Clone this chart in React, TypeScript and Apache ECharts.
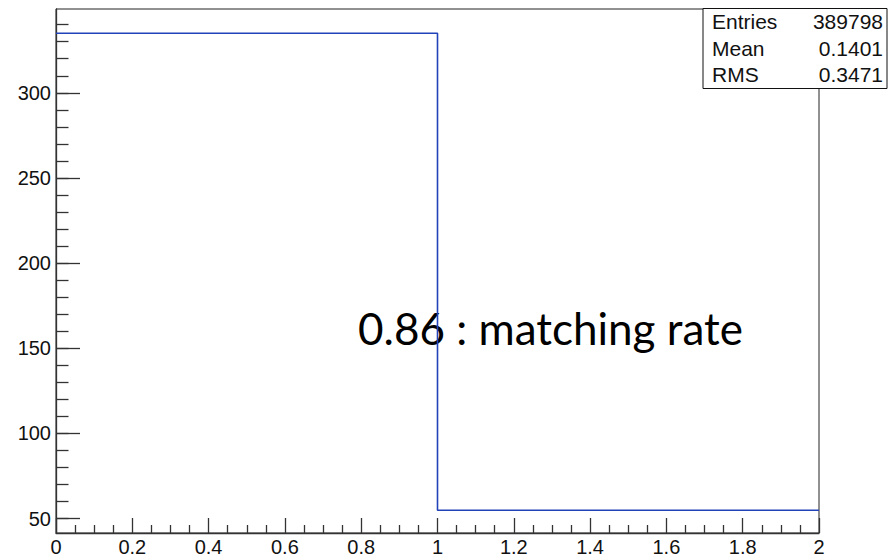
import React, { useEffect, useRef } from "react";
import * as echarts from "echarts";

const binEdges = [0, 1, 2];
const binCounts = [335, 54.9];
const yMin = 41.5;
const yMax = 349.2;
const yMajorTicks = [50, 100, 150, 200, 250, 300];
const yMinorTicks = [50, 60, 70, 80, 90, 100, 110, 120, 130, 140, 150, 160, 170, 180, 190, 200, 210, 220, 230, 240, 250, 260, 270, 280, 290, 300, 310, 320, 330, 340];
const statsLabels = ["Entries", "Mean", "RMS"];
const statsValues = ["389798", "0.1401", "0.3471"];
const annotation = "0.86 : matching rate";

export default function App() {
  const ref = useRef<HTMLDivElement>(null);
  useEffect(() => {
    document.body.style.margin = "0";
    const chart = echarts.init(ref.current!, null, { renderer: "svg" });
    const stepPoints: number[][] = [];
    for (let i = 0; i < binCounts.length; i++) {
      stepPoints.push([binEdges[i], binCounts[i]]);
      stepPoints.push([binEdges[i + 1], binCounts[i]]);
    }
    const font = "Liberation Sans, Arial, Helvetica, sans-serif";
    const statsGraphics: any[] = [
      {
        type: "rect",
        z: 10,
        shape: { x: 703, y: 8.5, width: 184, height: 80 },
        style: { fill: "#fff", stroke: "#111", lineWidth: 1 },
      },
    ];
    statsLabels.forEach((lab, i) => {
      statsGraphics.push({
        type: "text",
        z: 11,
        x: 712,
        y: 21.8 + i * 26.3,
        style: { text: lab, fill: "#111", font: `21px ${font}`, textAlign: "left", textVerticalAlign: "middle" },
      });
      statsGraphics.push({
        type: "text",
        z: 11,
        x: 883,
        y: 21.8 + i * 26.3,
        style: { text: statsValues[i], fill: "#111", font: `21px ${font}`, textAlign: "right", textVerticalAlign: "middle" },
      });
    });
    chart.setOption({
      animation: false,
      backgroundColor: "#fff",
      grid: {
        left: 56, right: 75, top: 9, bottom: 24,
        outerBoundsMode: "none",
        containLabel: false,
        show: true, borderColor: "#222", borderWidth: 1, backgroundColor: "transparent",
      },
      xAxis: {
        type: "value",
        min: 0,
        max: 2,
        interval: 0.2,
        axisLine: { show: true, lineStyle: { color: "#333", width: 1.3 } },
        axisTick: { show: true, inside: true, length: 15, lineStyle: { color: "#333", width: 1.3 } },
        minorTick: { show: true, splitNumber: 4, length: 8, lineStyle: { color: "#333", width: 1.3 } },
        splitLine: { show: false },
        axisLabel: { show: true, margin: 4, fontSize: 20, fontFamily: font, color: "#111" },
      },
      yAxis: [
        {
          type: "value",
          position: "left",
          min: yMin,
          max: yMax,
          axisLine: { show: true, lineStyle: { color: "#333", width: 1.3 } },
          axisTick: { show: true, inside: true, length: 24, customValues: yMajorTicks, lineStyle: { color: "#333", width: 1.3 } },
          splitLine: { show: false },
          axisLabel: { show: true, margin: 5, fontSize: 20, fontFamily: font, color: "#111", customValues: yMajorTicks },
        },
        {
          type: "value",
          position: "left",
          min: yMin,
          max: yMax,
          axisLine: { show: false },
          axisTick: { show: true, inside: true, length: 12.5, customValues: yMinorTicks, lineStyle: { color: "#333", width: 1.3 } },
          splitLine: { show: false },
          axisLabel: { show: false },
        },
      ],
      graphic: [
        {
          type: "text",
          z: 1,
          x: 358,
          y: 328,
          style: { text: annotation, fill: "#000", font: "44px Lato, sans-serif", textAlign: "left", textVerticalAlign: "middle" },
        },
        ...statsGraphics,
      ],
      series: [
        {
          type: "line",
          z: 5,
          data: stepPoints,
          symbol: "none",
          lineStyle: { color: "#2142b8", width: 1.6 },
          clip: false,
        },
      ],
    });
    return () => chart.dispose();
  }, []);
  return <div ref={ref} style={{ position: "fixed", left: 0, top: 0, width: 894, height: 557 }} />;
}
